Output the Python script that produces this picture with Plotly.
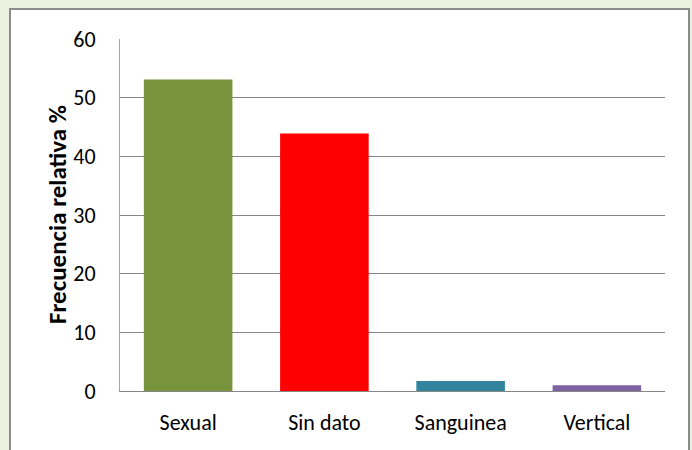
import plotly.graph_objects as go

# DATA
categories = ['Sexual', 'Sin dato', 'Sanguinea', 'Vertical']
values = [53.1, 43.9, 1.7, 1.0]
bar_colors = ['#77933C', '#FF0000', '#31849B', '#8064A2']
y_ticks = [0, 10, 20, 30, 40, 50, 60]

W, H = 692, 450
L, R, T, B = 120, 27, 39, 59
pw, ph = W - L - R, H - T - B

FONT = 'Carlito, Calibri, Liberation Sans Narrow, sans-serif'

fig = go.Figure()
fig.add_trace(go.Bar(x=categories, y=values, marker=dict(color=bar_colors, line=dict(width=0)),
                     width=0.65, hoverinfo='x+y'))

# white chart panel with grey frame on the green background
fig.add_shape(type='rect', xref='paper', yref='paper', layer='below',
              x0=(10 - L) / pw, x1=(689 - L) / pw,
              y0=(H - B - 470) / ph, y1=(H - B - 9) / ph,
              fillcolor='white', line=dict(color='#8C8C8C', width=2))

# y axis title
fig.add_annotation(text='<b>Frecuencia relativa %</b>', textangle=-90,
                   xref='paper', yref='paper', x=(57 - L) / pw, y=0.5,
                   xanchor='center', yanchor='middle', showarrow=False,
                   font=dict(family=FONT, size=25, color='black'))

fig.update_layout(
    width=W, height=H,
    margin=dict(l=L, r=R, t=T, b=B),
    paper_bgcolor='#EBF1DE',
    plot_bgcolor='white',
    showlegend=False,
    font=dict(family=FONT, size=22, color='black'),
    bargap=0.35,
)
fig.update_xaxes(showline=True, linecolor='#868686', linewidth=1, showgrid=False,
                 ticks='', ticklabelstandoff=12, tickfont=dict(size=22))
fig.update_yaxes(range=[0, 60], tickvals=y_ticks, showgrid=True, gridcolor='#868686', gridwidth=1,
                 showline=True, linecolor='#A6A6A6', linewidth=1, zeroline=False,
                 ticks='', ticklabelstandoff=19, tickfont=dict(size=22))

fig.write_html('out.html', config={'displayModeBar': False},
               post_script="document.body.style.margin='0';")
